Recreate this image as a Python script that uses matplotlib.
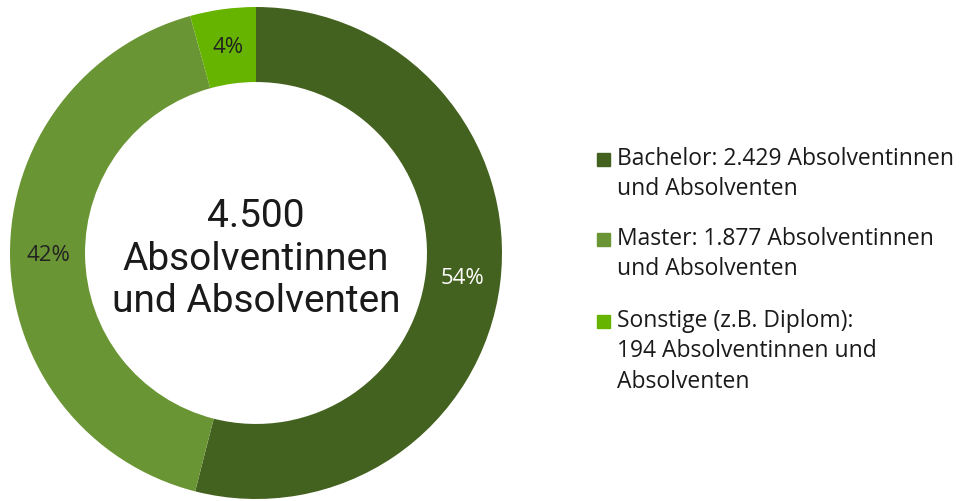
import numpy as np
import matplotlib.pyplot as plt
from matplotlib.patches import Rectangle

# ---------- data ----------
categories = ["Bachelor", "Master", "Sonstige"]
counts = [2429, 1877, 194]
pct_labels = ["54%", "42%", "4%"]
legend_labels = [
    "Bachelor: 2.429 Absolventinnen\nund Absolventen",
    "Master: 1.877 Absolventinnen\nund Absolventen",
    "Sonstige (z.B. Diplom):\n194 Absolventinnen und\nAbsolventen",
]
center_text = "4.500\nAbsolventinnen\nund Absolventen"

colors = ["#44621f", "#6a9534", "#66b400"]
label_colors = ["white", "#222222", "#222222"]

plt.rcParams['font.family'] = ['Roboto', 'DejaVu Sans']

W, H = 963, 501
fig = plt.figure(figsize=(W / 100, H / 100), dpi=100)

# ---------- donut ----------
cx, cy, r = 256, 253, 246
half = 250
ax = fig.add_axes([(cx - half) / W, (H - cy - half) / H, 2 * half / W, 2 * half / H])
wedges, _ = ax.pie(counts, colors=colors, startangle=90, counterclock=False,
                   radius=1.0, wedgeprops=dict(width=0.305, edgecolor='none'))
ax.set_xlim(-half / r, half / r)
ax.set_ylim(-half / r, half / r)
ax.set_aspect('equal')
ax.axis('off')

theta = 90.0
total = sum(counts)
for c, lab, lc in zip(counts, pct_labels, label_colors):
    span = 360.0 * c / total
    mid = np.deg2rad(theta - span / 2)
    d = 0.845
    ax.text(d * np.cos(mid), d * np.sin(mid), lab, ha='center', va='center',
            fontsize=16, color=lc, family=['Open Sans', 'DejaVu Sans'])
    theta -= span

ax.text(0, -0.025, center_text, ha='center', va='center', fontsize=28,
        color='#1a1a1a', linespacing=1.2)

# ---------- legend ----------
starts = [160, 240, 322]
for lab, col, y in zip(legend_labels, colors, starts):
    fig.patches.append(Rectangle((597 / W, (H - y - 6) / H), 13 / W, 13 / H,
                                 transform=fig.transFigure, color=col))
    fig.text(617 / W, (H - y + 13) / H, lab, ha='left', va='top', fontsize=16.5,
             color='#1a1a1a', linespacing=1.36, family=['Open Sans', 'DejaVu Sans'])

fig.savefig("out.png", dpi=100)
